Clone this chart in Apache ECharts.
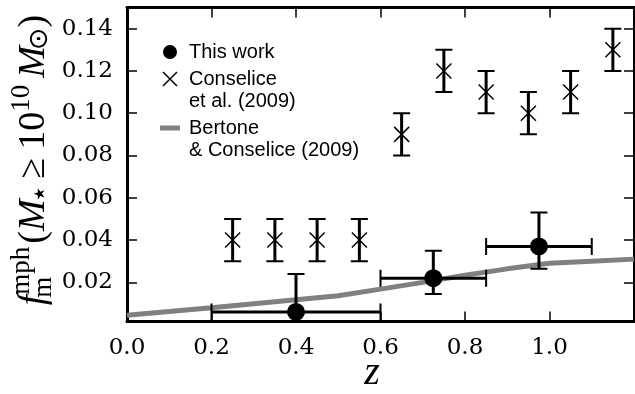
<!DOCTYPE html>
<html><head><meta charset="utf-8">
<script src="https://cdn.jsdelivr.net/npm/echarts@6/dist/echarts.min.js"></script>
<style>html,body{margin:0;padding:0;background:#fff}#c{width:635px;height:394px}</style>
</head><body><div id="c"></div>
<script>
// ---- data ----
const seriesNames = ['This work', 'Conselice\net al. (2009)', 'Bertone\n& Conselice (2009)'];
// This work
const thisZ   = [0.40, 0.725, 0.975];
const thisF   = [0.006, 0.022, 0.037];
const thisZLo = [0.20, 0.60, 0.85];
const thisZHi = [0.60, 0.85, 1.10];
const thisFLo = [-0.01, 0.0145, 0.0265];
const thisFHi = [0.024, 0.035, 0.053];
// Conselice et al. (2009)
const conZ   = [0.25, 0.35, 0.45, 0.55, 0.65, 0.75, 0.85, 0.95, 1.05, 1.15];
const conF   = [0.04, 0.04, 0.04, 0.04, 0.09, 0.12, 0.11, 0.10, 0.11, 0.13];
const conErr = [0.01, 0.01, 0.01, 0.01, 0.01, 0.01, 0.01, 0.01, 0.01, 0.01];
// Bertone & Conselice (2009)
const bertZ = [0.0, 0.1, 0.2, 0.3, 0.4, 0.5, 0.6, 0.7, 0.8, 0.9, 1.0, 1.1, 1.2];
const bertF = [0.0045, 0.0062, 0.0080, 0.0099, 0.0118, 0.0137, 0.0168, 0.0200, 0.0234, 0.0264, 0.0290, 0.0300, 0.0310];
// ticks
const xTicks = [0.0, 0.2, 0.4, 0.6, 0.8, 1.0];
const yTicks = [0.02, 0.04, 0.06, 0.08, 0.10, 0.12, 0.14];
const xRange = [0, 1.2];
const yRange = [0.0015, 0.15];

// ---- build ----
const chart = echarts.init(document.getElementById('c'), null, {renderer: 'canvas'});
const tickFont = {fontFamily: '"DejaVu Serif", serif', fontSize: 23, color: '#000'};
const serif = '"Liberation Serif", serif';

const thisData = thisZ.map((z, i) => [z, thisZLo[i], thisZHi[i], thisF[i], thisFLo[i], thisFHi[i]]);
const conData  = conZ.map((z, i) => [z, z, z, conF[i], conF[i] - conErr[i], conF[i] + conErr[i]]);

function errRender(capHalf, lwBar, lwCap) {
  return function (params, api) {
    const z = api.value(0), zl = api.value(1), zh = api.value(2);
    const f = api.value(3), fl = api.value(4), fh = api.value(5);
    const t = api.coord([z, fh]), b = api.coord([z, fl]);
    const bar = {stroke: '#000', lineWidth: lwBar, fill: null};
    const cap = {stroke: '#000', lineWidth: lwCap, fill: null};
    const ch = [
      {type: 'line', shape: {x1: t[0], y1: t[1], x2: b[0], y2: b[1]}, style: bar},
      {type: 'line', shape: {x1: t[0] - capHalf, y1: t[1], x2: t[0] + capHalf, y2: t[1]}, style: cap},
      {type: 'line', shape: {x1: b[0] - capHalf, y1: b[1], x2: b[0] + capHalf, y2: b[1]}, style: cap}
    ];
    if (zh !== zl) {
      const l = api.coord([zl, f]), r = api.coord([zh, f]);
      ch.push({type: 'line', shape: {x1: l[0], y1: l[1], x2: r[0], y2: r[1]}, style: bar});
      ch.push({type: 'line', shape: {x1: l[0], y1: l[1] - capHalf, x2: l[0], y2: l[1] + capHalf}, style: cap});
      ch.push({type: 'line', shape: {x1: r[0], y1: r[1] - capHalf, x2: r[0], y2: r[1] + capHalf}, style: cap});
    }
    return {type: 'group', children: ch};
  };
}

// y-axis label built from text pieces
const mctx = document.createElement('canvas').getContext('2d');
function tw(style, size, family, s) { mctx.font = style + ' ' + size + 'px ' + family; return mctx.measureText(s).width; }
const MAIN = 38, SCR = 27, SUP = -12, SUB = 10;
const pieces = [
  {t: 'f', st: 'italic', sz: MAIN, fam: serif, dy: 0, adv: -1},
  {t: 'mph', st: 'normal', sz: SCR, fam: serif, dy: SUP, stack: true},
  {t: 'm', st: 'normal', sz: SCR, fam: serif, dy: SUB, stackSub: true, adv: 3},
  {t: '(', st: 'normal', sz: MAIN, fam: serif, dy: 0},
  {t: 'M', st: 'italic', sz: MAIN, fam: serif, dy: 0},
  {t: '⋆', st: 'normal', sz: 30, fam: '"DejaVu Sans", sans-serif', dy: SUB - 3, pre: -4, adv: 6},
  {t: '≥', st: 'normal', sz: MAIN, fam: serif, dy: 0, adv: 8},
  {t: '10', st: 'normal', sz: MAIN, fam: serif, dy: 0},
  {t: '10', st: 'normal', sz: SCR, fam: serif, dy: SUP, adv: 7},
  {t: 'M', st: 'italic', sz: MAIN, fam: serif, dy: 0},
  {t: '⊙', st: 'normal', sz: SCR, fam: '"DejaVu Sans", sans-serif', dy: SUB - 4, pre: -4},
  {t: ')', st: 'normal', sz: MAIN, fam: serif, dy: 0}
];
let cur = 0, stackStart = 0, stackW = 0;
const placed = [];
pieces.forEach(p => {
  const w = tw(p.st, p.sz, p.fam, p.t);
  let x;
  if (p.stack) { stackStart = cur; x = cur + 1; stackW = w + 1; cur = cur + w + 1; }
  else if (p.stackSub) { x = stackStart - 2; cur = Math.max(stackStart + stackW, x + w); }
  else { x = cur + (p.pre || 0); cur = x + w; }
  cur += (p.adv || 0);
  placed.push({type: 'text', x: x, y: p.dy, style: {text: p.t, fontSize: p.sz, fontFamily: p.fam, fontStyle: p.st, fill: '#000', align: 'left', verticalAlign: 'middle'}});
});
const L = cur;
placed.forEach(e => { e.x -= L / 2; });

const option = {
  animation: false,
  backgroundColor: '#fff',
  grid: {left: 127, right: 1, top: 7.5, bottom: 72.5, containLabel: false, outerBoundsMode: 'none'},
  xAxis: [
    {type: 'value', min: xRange[0], max: xRange[1], position: 'bottom',
     axisLine: {show: true, onZero: false, lineStyle: {color: '#000', width: 3}},
     axisTick: {show: true, inside: true, length: 10, lineStyle: {color: '#000', width: 1.5}, customValues: xTicks},
     axisLabel: Object.assign({customValues: xTicks, margin: 15, formatter: v => v.toFixed(1)}, tickFont),
     splitLine: {show: false},
     name: 'z', nameLocation: 'middle', nameGap: 32, nameMoveOverlap: false,
     nameTextStyle: {fontFamily: serif, fontStyle: 'italic', fontSize: 40, color: '#000', padding: [0, 17, 0, 0]}},
    {type: 'value', min: xRange[0], max: xRange[1], position: 'top',
     axisLine: {show: true, onZero: false, lineStyle: {color: '#000', width: 3}},
     axisTick: {show: true, inside: true, length: 10, lineStyle: {color: '#000', width: 1.5}, customValues: xTicks},
     axisLabel: {show: false}, splitLine: {show: false}}
  ],
  yAxis: [
    {type: 'value', min: yRange[0], max: yRange[1], position: 'left',
     axisLine: {show: true, onZero: false, lineStyle: {color: '#000', width: 3}},
     axisTick: {show: true, inside: true, length: 10, lineStyle: {color: '#000', width: 1.5}, customValues: yTicks},
     axisLabel: Object.assign({customValues: yTicks, margin: 14, formatter: v => v.toFixed(2)}, tickFont),
     splitLine: {show: false}},
    {type: 'value', min: yRange[0], max: yRange[1], position: 'right',
     axisLine: {show: true, onZero: false, lineStyle: {color: '#000', width: 3}},
     axisTick: {show: true, inside: true, length: 10, lineStyle: {color: '#000', width: 1.5}, customValues: yTicks},
     axisLabel: {show: false}, splitLine: {show: false}}
  ],
  legend: {
    orient: 'vertical', left: 160, top: 41, padding: 0, itemGap: -17,
    itemWidth: 20, itemHeight: 14, selectedMode: false,
    formatter: name => name.indexOf('\n') >= 0 ? ' \n' + name : name,
    textStyle: {fontFamily: '"Liberation Sans", Arial, sans-serif', fontSize: 20, lineHeight: 22, color: '#000', padding: [0, 0, 0, 4]},
    itemStyle: {borderWidth: 'inherit'},
    lineStyle: {width: 'inherit'},
    data: [
      {name: seriesNames[0]},
      {name: seriesNames[1]},
      {name: seriesNames[2], icon: 'path://M0,0L20,0L20,5L0,5Z'}
    ]
  },
  graphic: [
    {type: 'group', x: 34, y: 160, rotation: Math.PI / 2, children: placed}
  ],
  series: [
    {name: seriesNames[2], type: 'line', data: bertZ.map((z, i) => [z, bertF[i]]),
     showSymbol: false, symbol: 'none', lineStyle: {color: '#808080', width: 5}, itemStyle: {color: '#808080'}, z: 1, clip: true},
    {name: 'errCon', type: 'custom', data: conData, renderItem: errRender(8.5, 3, 2),
     encode: {x: [0, 1, 2], y: [3, 4, 5]}, z: 2, clip: true},
    {name: 'errThis', type: 'custom', data: thisData, renderItem: errRender(8.5, 3, 2),
     encode: {x: [0, 1, 2], y: [3, 4, 5]}, z: 2, clip: true},
    {name: seriesNames[1], type: 'scatter', data: conZ.map((z, i) => [z, conF[i]]),
     symbol: 'path://M0,0L10,10M10,0L0,10', symbolSize: 15, symbolKeepAspect: true,
     itemStyle: {color: 'rgba(0,0,0,0)', borderColor: '#000', borderWidth: 1.5, opacity: 1}, z: 3},
    {name: seriesNames[0], type: 'scatter', data: thisZ.map((z, i) => [z, thisF[i]]),
     symbol: 'circle', symbolSize: 18, itemStyle: {color: '#000', opacity: 1}, z: 4}
  ]
};
chart.setOption(option);
</script>
</body></html>
